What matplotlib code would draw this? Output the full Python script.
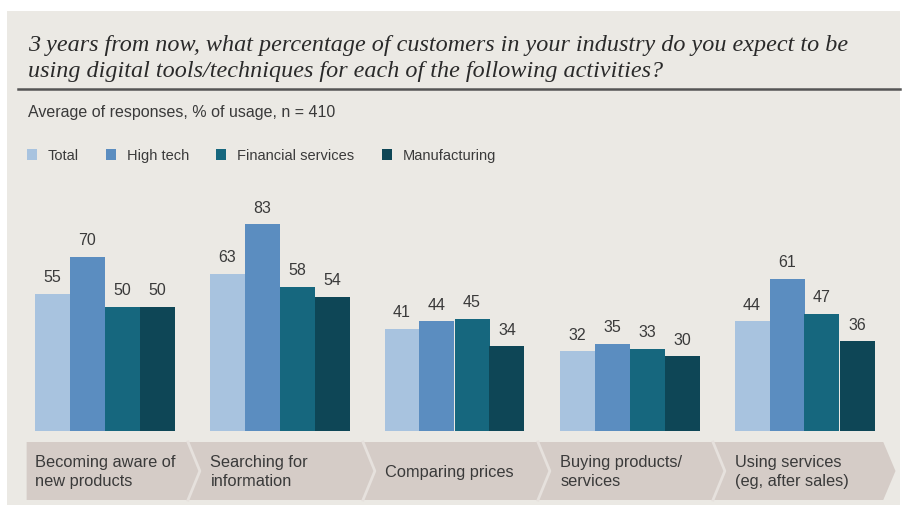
import matplotlib
matplotlib.use("Agg")
import matplotlib.pyplot as plt
import numpy as np
from matplotlib.patches import Rectangle, Polygon
from matplotlib.lines import Line2D
from matplotlib.transforms import blended_transform_factory

# --- data ---
categories = [
    "Becoming aware of\nnew products",
    "Searching for\ninformation",
    "Comparing prices",
    "Buying products/\nservices",
    "Using services\n(eg, after sales)",
]
series_names = ["Total", "High tech", "Financial services", "Manufacturing"]
total = [55, 63, 41, 32, 44]
high_tech = [70, 83, 44, 35, 61]
financial = [50, 58, 45, 33, 47]
manufacturing = [50, 54, 34, 30, 36]

colors = ["#a8c3df", "#5b8dc0", "#16677e", "#0e4656"]
PAPER = "#ebe9e4"
BAND = "#d5ccc7"
SEP = "#e6e1dd"
TEXT = "#3a3a3a"

SANS = ["Liberation Sans", "DejaVu Sans"]
W, H = 908, 506


def fx(px):
    return px / W


def fy(py):
    return 1 - py / H


fig = plt.figure(figsize=(W / 100, H / 100), dpi=100)
fig.patch.set_facecolor("white")

# paper background
fig.add_artist(Rectangle((fx(7), 0), fx(900) - fx(7), fy(12), transform=fig.transFigure,
                         facecolor=PAPER, edgecolor="none", zorder=0))

# title block
title_kw = dict(family="Liberation Serif", style="italic", fontsize=17.4, color="#2a2a2a",
                va="center", ha="left")
fig.text(fx(28), fy(46), "3 years from now, what percentage of customers in your industry do you expect to be",
         **title_kw)
fig.text(fx(28), fy(71), "using digital tools/techniques for each of the following activities?", **title_kw)
fig.add_artist(Line2D([fx(18), fx(900)], [fy(90), fy(90)], transform=fig.transFigure,
                      color="#555555", lw=1.8))
fig.text(fx(28), fy(113), "Average of responses, % of usage, n = 410",
         family=SANS, fontsize=11.5, color=TEXT, va="center", ha="left")

# legend row
fig.canvas.draw()
renderer = fig.canvas.get_renderer()
x = 27
for name, c in zip(series_names, colors):
    fig.add_artist(Rectangle((fx(x), fy(161)), fx(10), 11 / H, transform=fig.transFigure,
                             facecolor=c, edgecolor="none"))
    t = fig.text(fx(x + 21), fy(156), name, family=SANS, fontsize=10.5,
                 color=TEXT, va="center", ha="left")
    bb = t.get_window_extent(renderer)
    x = x + 21 + bb.width + 27

# bars
ax = fig.add_axes([fx(17), 74 / H, 875 / W, 249 / H])
ax.set_xlim(-0.5, 4.5)
ax.set_ylim(0, 100)
ax.axis("off")
ax.patch.set_alpha(0)

xs = np.arange(len(categories))
bw = 0.2
all_series = [total, high_tech, financial, manufacturing]
for i, (vals, c) in enumerate(zip(all_series, colors)):
    pos = xs + (i - 1.5) * bw
    bars = ax.bar(pos, vals, width=bw, color=c, edgecolor="none")
    for b, v in zip(bars, vals):
        ax.annotate(str(v), (b.get_x() + b.get_width() / 2, v), xytext=(0, 7),
                    textcoords="offset points", ha="center", va="bottom",
                    family=SANS, fontsize=11.5, color=TEXT)

# category band with chevron separators
tr = blended_transform_factory(ax.transData, fig.transFigure)
top, bot, mid = fy(443), fy(501), fy(472)
band = Polygon([(-0.445, top), (4.45, top), (4.52, mid), (4.45, bot), (-0.445, bot)],
               closed=True, transform=tr, facecolor=BAND, edgecolor="none", clip_on=False)
ax.add_patch(band)
for k in range(len(categories) - 1):
    ax.add_line(Line2D([k + 0.477, k + 0.545, k + 0.477], [top, mid, bot], transform=tr,
                       color=SEP, lw=2.0, clip_on=False))
for k, lab in enumerate(categories):
    ax.text(k - 0.395, mid, lab, transform=tr, family=SANS, fontsize=11.8,
            color=TEXT, ha="left", va="center", linespacing=1.4)

fig.savefig("out.png", dpi=100, facecolor=fig.get_facecolor())
